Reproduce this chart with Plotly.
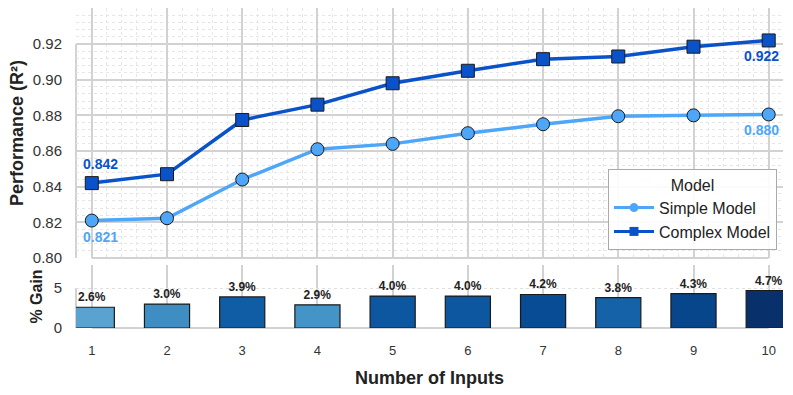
import plotly.graph_objects as go
from plotly.subplots import make_subplots

inputs = [1, 2, 3, 4, 5, 6, 7, 8, 9, 10]
simple_model = [0.821, 0.8223, 0.844, 0.861, 0.864, 0.870, 0.875, 0.8795, 0.880, 0.8805]
complex_model = [0.842, 0.847, 0.8774, 0.886, 0.898, 0.905, 0.9115, 0.913, 0.9185, 0.922]
gain = [2.6, 3.0, 3.9, 2.9, 4.0, 4.0, 4.2, 3.8, 4.3, 4.7]
perf_ticks = [0.80, 0.82, 0.84, 0.86, 0.88, 0.90, 0.92]
gain_ticks = [0, 5]

simple_color = '#4DA6F7'
complex_color = '#0A52C9'
font = 'Liberation Sans, Arial, sans-serif'
grid = '#d2d2d2'


def plot():
	fig = make_subplots(rows=2, cols=1, shared_xaxes=True)

	series = [('Simple Model', simple_model, simple_color, 'circle'),
	          ('Complex Model', complex_model, complex_color, 'square')]
	for name, values, color, symbol in series:
		fig.add_trace(go.Scatter(
		    x=inputs, y=values, name=name, mode='lines+markers', showlegend=False,
		    line=dict(color=color, width=3.5),
		    marker=dict(symbol=symbol, size=13, color=color,
		                line=dict(color='#1a1a1a', width=1)),
		), row=1, col=1)
		# legend entry with a smaller symbol, like the original
		fig.add_trace(go.Scatter(
		    x=[None], y=[None], name=name, mode='lines+markers',
		    line=dict(color=color, width=3),
		    marker=dict(symbol=symbol, size=9, color=color),
		), row=1, col=1)

	fig.add_trace(go.Bar(
	    x=inputs, y=gain, width=0.6, showlegend=False,
	    marker=dict(color=gain, colorscale='Blues', cmin=0, cmax=max(gain),
	                line=dict(color='#1a1a1a', width=1.2)),
	    text=['%.1f%%' % g for g in gain], textposition='outside',
	    textfont=dict(size=12, color='#222', family=font, weight='bold'),
	    cliponaxis=False,
	), row=2, col=1)

	# labels on first and last points
	labels = [
	    (inputs[0], complex_model[0], complex_color, 'left', -11, 19),
	    (inputs[0], simple_model[0], simple_color, 'left', -11, -16),
	    (inputs[-1], complex_model[-1], complex_color, 'right', 12, -16),
	    (inputs[-1], simple_model[-1], simple_color, 'right', 12, -16),
	]
	for x, y, color, anchor, xs, ys in labels:
		fig.add_annotation(x=x, y=y, xref='x', yref='y', text='%.3f' % y,
		                   showarrow=False, xanchor=anchor, xshift=xs, yshift=ys,
		                   font=dict(size=14, color=color, family=font, weight='bold'))

	# trimmed spines (seaborn despine trim look)
	spine = dict(color=grid, width=2)
	fig.add_shape(type='line', xref='x domain', yref='y', x0=0, x1=0,
	              y0=min(perf_ticks), y1=max(perf_ticks), line=spine, layer='below')
	fig.add_shape(type='line', xref='x', yref='y domain', x0=min(inputs), x1=max(inputs),
	              y0=0, y1=0, line=spine, layer='below')
	fig.add_shape(type='line', xref='x2 domain', yref='y2', x0=0, x1=0,
	              y0=min(gain_ticks), y1=max(gain_ticks), line=spine, layer='below')
	fig.add_shape(type='line', xref='x2', yref='y2 domain', x0=min(inputs), x1=max(inputs),
	              y0=0, y1=0, line=spine, layer='below')

	minor = dict(showgrid=True, gridcolor='#e6e6e6', griddash='dot', gridwidth=1)

	fig.update_xaxes(range=[0.79, 10.19], tick0=1, dtick=1, showgrid=True,
	                 gridcolor=grid, gridwidth=1.5, zeroline=False, showline=False,
	                 automargin=False, tickfont=dict(size=13, color='#333'))
	fig.update_xaxes(minor=dict(dtick=0.2, **minor), showticklabels=False, row=1, col=1)
	fig.update_xaxes(ticks='outside', ticklen=10, tickcolor='rgba(0,0,0,0)',
	                 title=dict(text='Number of Inputs', standoff=14,
	                            font=dict(size=18, color='#222', weight='bold')),
	                 row=2, col=1)

	fig.update_yaxes(domain=[0.21875, 1], range=[0.80, 0.9402], tickvals=perf_ticks,
	                 tickformat='.2f', showgrid=True, gridcolor=grid, gridwidth=1.5,
	                 zeroline=False, automargin=False,
	                 ticks='outside', ticklen=10, tickcolor='rgba(0,0,0,0)',
	                 minor=dict(dtick=0.004, tick0=0.8, **minor),
	                 tickfont=dict(size=15, color='#333'),
	                 title=dict(text='Performance (R²)', standoff=4,
	                            font=dict(size=18, color='#222', weight='bold')),
	                 row=1, col=1)
	fig.update_yaxes(domain=[0, 0.197], range=[0, 7.9], tickvals=gain_ticks,
	                 showgrid=True, gridcolor='#e0e0e0', griddash='dot', gridwidth=1,
	                 zeroline=False, automargin=False,
	                 ticks='outside', ticklen=10, tickcolor='rgba(0,0,0,0)',
	                 tickfont=dict(size=15, color='#333'),
	                 title=dict(text='% Gain', standoff=7,
	                            font=dict(size=16, color='#222', weight='bold')),
	                 row=2, col=1)

	fig.update_layout(
	    width=793, height=395,
	    margin=dict(l=76, r=10, t=8, b=67),
	    paper_bgcolor='white', plot_bgcolor='white',
	    font=dict(family=font, color='#222'),
	    legend=dict(title=dict(text='Model', side='top center', font=dict(size=16)),
	                x=0.9915, y=0.244, xanchor='right', yanchor='bottom',
	                itemwidth=40, tracegroupgap=0,
	                bgcolor='rgba(255,255,255,0.9)', bordercolor='#aaaaaa',
	                borderwidth=1, font=dict(size=16, color='#222')),
	)

	# drop the page's default body margin so the figure sits at the window corner
	fig.write_html('out.html', config={'displayModeBar': False},
	               post_script="document.body.style.margin = '0';")


if __name__ == '__main__':
	plot()
